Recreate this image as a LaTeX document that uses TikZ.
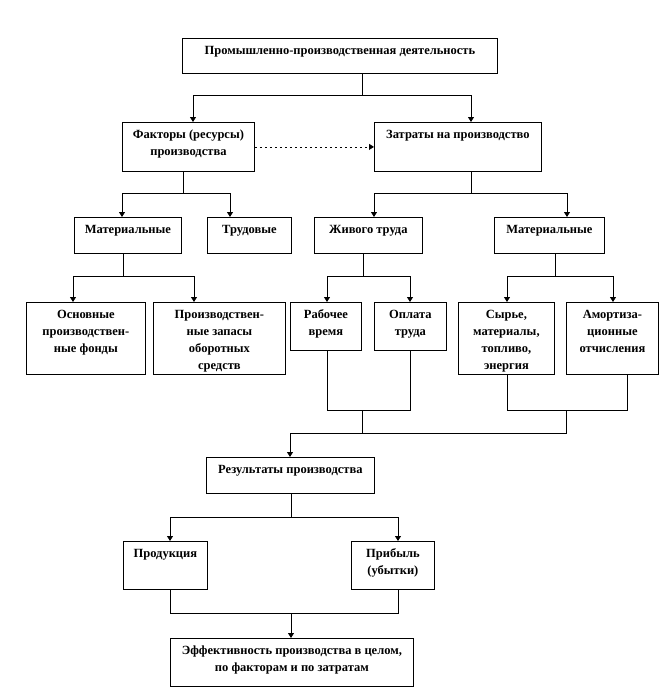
\documentclass[tikz,border=0pt]{standalone}
\usepackage{fontspec}
\setmainfont{Liberation Serif}
\usetikzlibrary{arrows.meta,shadows}
% box contents: width, height, text (first line near the top)
\newcommand{\bx}[3]{\parbox[t][#2pt][t]{#1pt}{\centering\rule{0pt}{16pt}#3}}
\tikzset{
  blk/.style={draw, fill=white, inner sep=0pt, anchor=north west, line width=0.8pt,
    font=\fontsize{12.5}{17}\selectfont\bfseries,
    drop shadow={shadow xshift=0.9pt, shadow yshift=-0.9pt, fill=black!45, opacity=1}},
}
\begin{document}
\begin{tikzpicture}[x=1pt, y=-1pt, line width=0.8pt, >={Triangle[width=6pt,length=5pt]}]
    \useasboundingbox (0,0) rectangle (665,699);

    \node[blk] (top)  at (182,38)  {\bx{315}{35}{Промышленно-производственная деятельность}};
    \node[blk] (fact) at (122,122) {\bx{132}{49}{Факторы (ресурсы)\\производства}};
    \node[blk] (zatr) at (374,122) {\bx{167}{49}{Затраты на производство}};
    \node[blk] (mat1) at (74,217)  {\bx{107}{36}{Материальные}};
    \node[blk] (trud) at (207,217) {\bx{84}{36}{Трудовые}};
    \node[blk] (zhiv) at (314,217) {\bx{108}{36}{Живого труда}};
    \node[blk] (mat2) at (494,217) {\bx{110}{36}{Материальные}};
    \node[blk] (osn)  at (26,302)  {\bx{119}{72}{Основные\\производствен-\\ные фонды}};
    \node[blk] (zap)  at (153,302) {\bx{132}{72}{Производствен-\\ные запасы\\оборотных\\средств}};
    \node[blk] (rab)  at (290,302) {\bx{71}{48}{Рабочее\\время}};
    \node[blk] (opl)  at (374,302) {\bx{72}{48}{Оплата\\труда}};
    \node[blk] (syr)  at (458,302) {\bx{96}{72}{Сырье,\\материалы,\\топливо,\\энергия}};
    \node[blk] (amo)  at (566,302) {\bx{92}{72}{Амортиза-\\ционные\\отчисления}};
    \node[blk] (rez)  at (206,457) {\bx{168}{36}{Результаты производства}};
    \node[blk] (prod) at (123,541) {\bx{84}{48}{Продукция}};
    \node[blk] (prib) at (351,541) {\bx{83}{48}{Прибыль\\(убытки)}};
    \node[blk] (eff)  at (170,638) {\bx{243}{48}{Эффективность производства в целом,\\по факторам и по затратам}};

    % forks
    \coordinate (a1) at (362,95);  \coordinate (a1l) at (193,95);  \coordinate (a1r) at (471,95);
    \coordinate (b1) at (183,193); \coordinate (b1l) at (122,193); \coordinate (b1r) at (230,193);
    \coordinate (c1) at (471,193); \coordinate (c1l) at (374,193); \coordinate (c1r) at (567,193);
    \coordinate (d1) at (123,276); \coordinate (d1l) at (73,276);  \coordinate (d1r) at (194,276);
    \coordinate (e1) at (363,276); \coordinate (e1l) at (327,276); \coordinate (e1r) at (410,276);
    \coordinate (g1) at (555,276); \coordinate (g1l) at (507,276); \coordinate (g1r) at (613,276);
    \coordinate (n1) at (291,517); \coordinate (n1l) at (170,517); \coordinate (n1r) at (398,517);
    % joins
    \coordinate (h1) at (362,410); \coordinate (h1l) at (327,410); \coordinate (h1r) at (410,410);
    \coordinate (k1) at (566,410); \coordinate (k1l) at (507,410); \coordinate (k1r) at (627,410);
    \coordinate (m1l) at (290,433); \coordinate (m1r) at (566,433);
    \coordinate (p1) at (291,613); \coordinate (p1l) at (170,613); \coordinate (p1r) at (398,613);

    \draw (top.south -| a1) -- (a1);
    \draw[->] (a1) -| (fact.north -| a1l);
    \draw[->] (a1) -| (zatr.north -| a1r);
    \draw[->, dash pattern=on 2pt off 3pt] (fact) -- (zatr);

    \draw (fact.south -| b1) -- (b1);
    \draw[->] (b1) -| (mat1.north -| b1l);
    \draw[->] (b1) -| (trud.north -| b1r);

    \draw (zatr.south -| c1) -- (c1);
    \draw[->] (c1) -| (zhiv.north -| c1l);
    \draw[->] (c1) -| (mat2.north -| c1r);

    \draw (mat1.south -| d1) -- (d1);
    \draw[->] (d1) -| (osn.north -| d1l);
    \draw[->] (d1) -| (zap.north -| d1r);

    \draw (zhiv.south -| e1) -- (e1);
    \draw[->] (e1) -| (rab.north -| e1l);
    \draw[->] (e1) -| (opl.north -| e1r);

    \draw (mat2.south -| g1) -- (g1);
    \draw[->] (g1) -| (syr.north -| g1l);
    \draw[->] (g1) -| (amo.north -| g1r);

    \draw (rab.south -| h1l) -- (h1l) -- (h1r) -- (opl.south -| h1r);
    \draw (syr.south -| k1l) -- (k1l) -- (k1r) -- (amo.south -| k1r);
    \draw (h1) -- (h1 |- m1l);
    \draw (k1) -- (m1r) -- (m1l);
    \draw[->] (m1l) -- (rez.north -| m1l);

    \draw (rez.south -| n1) -- (n1);
    \draw[->] (n1) -| (prod.north -| n1l);
    \draw[->] (n1) -| (prib.north -| n1r);

    \draw (prod.south -| p1l) -- (p1l) -- (p1r) -- (prib.south -| p1r);
    \draw[->] (p1) -- (eff.north -| p1);
\end{tikzpicture}
\end{document}
